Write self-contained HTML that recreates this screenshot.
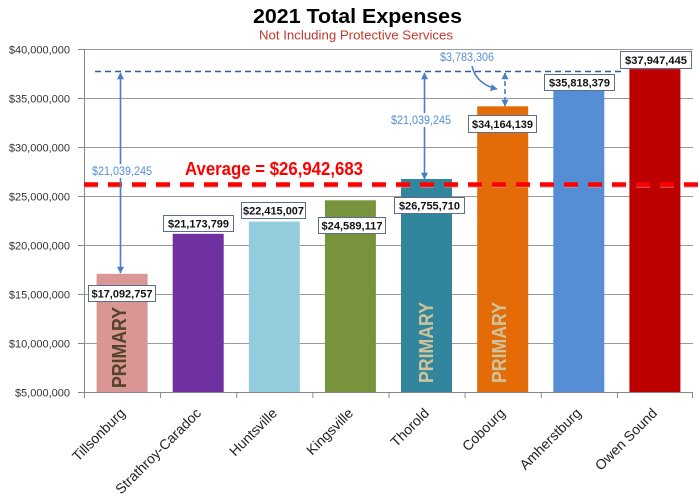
<!DOCTYPE html>
<html><head><meta charset="utf-8"><style>
html,body{margin:0;padding:0;background:#fff;}
svg{display:block;}
text{font-family:"Liberation Sans",Arial,sans-serif;}
</style></head><body>
<svg width="700" height="501" viewBox="0 0 700 501" xmlns="http://www.w3.org/2000/svg">
<defs>
<marker id="ah" viewBox="0 0 10 10" refX="9" refY="5" markerWidth="7" markerHeight="7" orient="auto-start-reverse" markerUnits="userSpaceOnUse">
<path d="M0,0 L10,5 L0,10 z" fill="#4A7EC0"/>
</marker>
</defs>
<rect width="700" height="501" fill="#fff"/>

<!-- Title -->
<text x="357.5" y="23" text-anchor="middle" font-size="20" font-weight="bold" fill="#000" textLength="209" lengthAdjust="spacingAndGlyphs">2021 Total Expenses</text>
<text x="356" y="39.5" text-anchor="middle" font-size="12.5" fill="#C0392B" textLength="194" lengthAdjust="spacingAndGlyphs">Not Including Protective Services</text>

<!-- gridlines -->
<g stroke="#9a9a9a" stroke-width="1">
<line x1="84" y1="49.5" x2="693" y2="49.5"/>
<line x1="84" y1="98.5" x2="693" y2="98.5"/>
<line x1="84" y1="147.5" x2="693" y2="147.5"/>
<line x1="84" y1="196.5" x2="693" y2="196.5"/>
<line x1="84" y1="245.5" x2="693" y2="245.5"/>
<line x1="84" y1="294.5" x2="693" y2="294.5"/>
<line x1="84" y1="343.5" x2="693" y2="343.5"/>
</g>
<!-- y tick marks -->
<g stroke="#888" stroke-width="1">
<line x1="78" y1="49.5" x2="84" y2="49.5"/>
<line x1="78" y1="98.5" x2="84" y2="98.5"/>
<line x1="78" y1="147.5" x2="84" y2="147.5"/>
<line x1="78" y1="196.5" x2="84" y2="196.5"/>
<line x1="78" y1="245.5" x2="84" y2="245.5"/>
<line x1="78" y1="294.5" x2="84" y2="294.5"/>
<line x1="78" y1="343.5" x2="84" y2="343.5"/>
<line x1="78" y1="392.5" x2="84" y2="392.5"/>
</g>
<!-- y labels -->
<g font-size="11" fill="#333" text-anchor="end">
<text x="70" y="53.5">$40,000,000</text>
<text x="70" y="102.5">$35,000,000</text>
<text x="70" y="151.5">$30,000,000</text>
<text x="70" y="200.5">$25,000,000</text>
<text x="70" y="249.5">$20,000,000</text>
<text x="70" y="298.5">$15,000,000</text>
<text x="70" y="347.5">$10,000,000</text>
<text x="70" y="396.5">$5,000,000</text>
</g>

<!-- bars -->
<rect x="96.6" y="273.8" width="51" height="118.7" fill="#DA9694"/>
<rect x="172.7" y="233.8" width="51" height="158.7" fill="#7030A0"/>
<rect x="248.8" y="221.6" width="51" height="170.9" fill="#93CDDD"/>
<rect x="324.9" y="200.3" width="51" height="192.2" fill="#77933C"/>
<rect x="401" y="179" width="51" height="213.5" fill="#31859C"/>
<rect x="477.2" y="106.3" width="51" height="286.2" fill="#E36C09"/>
<rect x="553.3" y="90" width="51" height="302.5" fill="#558ED5"/>
<rect x="629.4" y="69.1" width="51" height="323.4" fill="#BC0000"/>

<!-- axes -->
<line x1="84.5" y1="49" x2="84.5" y2="393" stroke="#888" stroke-width="1"/>
<line x1="84" y1="392.5" x2="693" y2="392.5" stroke="#888" stroke-width="1"/>
<g stroke="#888" stroke-width="1">
<line x1="84.5" y1="392.5" x2="84.5" y2="398"/>
<line x1="160.6" y1="392.5" x2="160.6" y2="398"/>
<line x1="236.8" y1="392.5" x2="236.8" y2="398"/>
<line x1="312.9" y1="392.5" x2="312.9" y2="398"/>
<line x1="389" y1="392.5" x2="389" y2="398"/>
<line x1="465.1" y1="392.5" x2="465.1" y2="398"/>
<line x1="541.3" y1="392.5" x2="541.3" y2="398"/>
<line x1="617.4" y1="392.5" x2="617.4" y2="398"/>
<line x1="692.5" y1="392.5" x2="692.5" y2="398"/>
</g>

<!-- PRIMARY labels -->
<text transform="translate(126,388) rotate(-90)" font-size="20" font-weight="bold" fill="#55442A" textLength="81" lengthAdjust="spacingAndGlyphs">PRIMARY</text>
<text transform="translate(433,383) rotate(-90)" font-size="20" font-weight="bold" fill="#CFC39A" textLength="81" lengthAdjust="spacingAndGlyphs">PRIMARY</text>
<text transform="translate(506,383) rotate(-90)" font-size="20" font-weight="bold" fill="#CFC39A" textLength="81" lengthAdjust="spacingAndGlyphs">PRIMARY</text>

<!-- average line -->
<line x1="84" y1="186.5" x2="700" y2="186.5" stroke="#d0a0a0" stroke-width="3" stroke-dasharray="14 10" opacity="0.5"/>
<line x1="84" y1="184.5" x2="700" y2="184.5" stroke="#FF0000" stroke-width="4.5" stroke-dasharray="14 10"/>
<text x="274" y="175" text-anchor="middle" font-size="18" font-weight="bold" fill="#FF0000" textLength="178" lengthAdjust="spacingAndGlyphs">Average = $26,942,683</text>

<!-- blue dashed max line -->
<line x1="95" y1="71.5" x2="622" y2="71.5" stroke="#2F5F9F" stroke-width="1.6" stroke-dasharray="6 4"/>

<!-- arrows -->
<line x1="120.5" y1="73" x2="120.5" y2="273" stroke="#4A7EC0" stroke-width="1.6" marker-start="url(#ah)" marker-end="url(#ah)"/>
<line x1="424.5" y1="73" x2="424.5" y2="179" stroke="#4A7EC0" stroke-width="1.6" marker-start="url(#ah)" marker-end="url(#ah)"/>
<line x1="505" y1="73" x2="505" y2="106" stroke="#4A7EC0" stroke-width="1.6" stroke-dasharray="5 3" marker-start="url(#ah)" marker-end="url(#ah)"/>
<path d="M472,66 Q476,84 497,89" fill="none" stroke="#4A7EC0" stroke-width="1.6" marker-end="url(#ah)"/>

<!-- blue labels -->
<rect x="91" y="164" width="62" height="14" fill="#fff"/>
<text x="122" y="175" text-anchor="middle" font-size="11.5" fill="#558ED5" textLength="60" lengthAdjust="spacingAndGlyphs">$21,039,245</text>
<rect x="390" y="113" width="62" height="14" fill="#fff"/>
<text x="421" y="124" text-anchor="middle" font-size="11.5" fill="#558ED5" textLength="60" lengthAdjust="spacingAndGlyphs">$21,039,245</text>
<text x="467" y="61" text-anchor="middle" font-size="11.5" fill="#558ED5" textLength="54" lengthAdjust="spacingAndGlyphs">$3,783,306</text>

<!-- data labels -->
<g font-size="11" font-weight="bold" fill="#111" text-anchor="middle">
<rect x="88.5" y="285.5" width="67" height="16" fill="#fff" stroke="#5A6E8C" stroke-width="1"/>
<text x="122" y="297.5" textLength="61" lengthAdjust="spacingAndGlyphs">$17,092,757</text>
<rect x="163.5" y="215.5" width="70" height="16" fill="#fff" stroke="#5A6E8C" stroke-width="1"/>
<text x="198.5" y="227.5" textLength="61" lengthAdjust="spacingAndGlyphs">$21,173,799</text>
<rect x="241.5" y="202.5" width="64" height="16" fill="#fff" stroke="#5A6E8C" stroke-width="1"/>
<text x="273.5" y="214.5" textLength="61" lengthAdjust="spacingAndGlyphs">$22,415,007</text>
<rect x="318.5" y="217.5" width="67" height="16" fill="#fff" stroke="#5A6E8C" stroke-width="1"/>
<text x="352" y="229.5" textLength="61" lengthAdjust="spacingAndGlyphs">$24,589,117</text>
<rect x="394.5" y="197.5" width="70" height="16" fill="#fff" stroke="#5A6E8C" stroke-width="1"/>
<text x="429.5" y="209.5" textLength="61" lengthAdjust="spacingAndGlyphs">$26,755,710</text>
<rect x="468.5" y="115.5" width="68" height="17" fill="#fff" stroke="#5A6E8C" stroke-width="1"/>
<text x="502.5" y="128" textLength="61" lengthAdjust="spacingAndGlyphs">$34,164,139</text>
<rect x="544.5" y="74.5" width="70" height="16" fill="#fff" stroke="#5A6E8C" stroke-width="1"/>
<text x="579.5" y="86.5" textLength="61" lengthAdjust="spacingAndGlyphs">$35,818,379</text>
<rect x="620.5" y="51.5" width="71" height="17" fill="#fff" stroke="#5A6E8C" stroke-width="1"/>
<text x="656" y="64" textLength="62" lengthAdjust="spacingAndGlyphs">$37,947,445</text>
</g>

<!-- x labels -->
<g font-size="14" fill="#222" text-anchor="end">
<text transform="translate(126,414) rotate(-45)">Tillsonburg</text>
<text transform="translate(202,414) rotate(-45)">Strathroy-Caradoc</text>
<text transform="translate(278,414) rotate(-45)">Huntsville</text>
<text transform="translate(354,414) rotate(-45)">Kingsville</text>
<text transform="translate(430,414) rotate(-45)">Thorold</text>
<text transform="translate(506,414) rotate(-45)">Cobourg</text>
<text transform="translate(582,414) rotate(-45)">Amherstburg</text>
<text transform="translate(658,414) rotate(-45)">Owen Sound</text>
</g>
</svg>
</body></html>
